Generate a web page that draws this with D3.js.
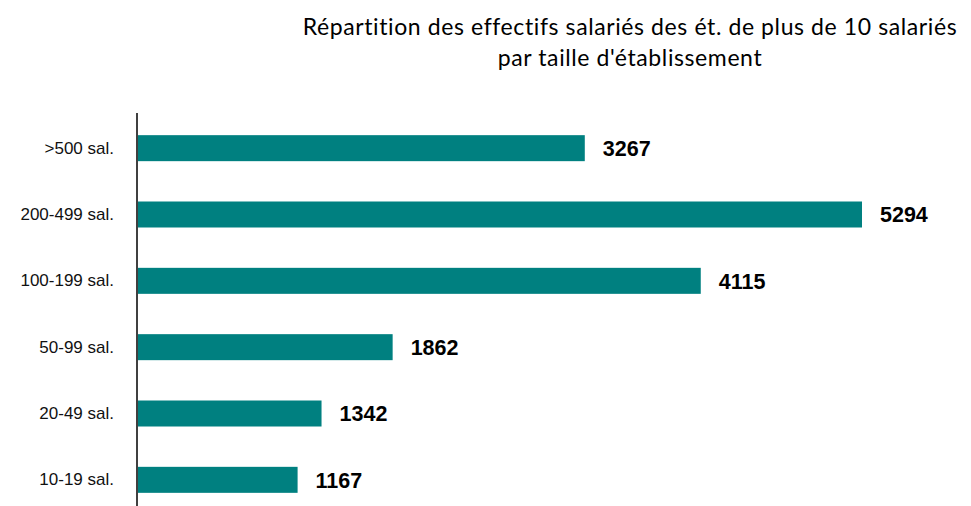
<!DOCTYPE html>
<html>
<head>
<meta charset="utf-8">
<script src="https://cdn.jsdelivr.net/npm/d3@7"></script>
<style>
  body { margin: 0; background: #fff; }
  svg { display: block; }
</style>
</head>
<body>
<div id="chart"></div>
<script>
// Données (de haut en bas)
const categories = [">500 sal.", "200-499 sal.", "100-199 sal.", "50-99 sal.", "20-49 sal.", "10-19 sal."];
const effectifs  = [3267, 5294, 4115, 1862, 1342, 1167];
const titleLines = ["Répartition des effectifs salariés des ét. de plus de 10 salariés", "par taille d'établissement"];

const width = 971, height = 506;

const svg = d3.select("#chart").append("svg")
  .attr("width", width)
  .attr("height", height);

// Titre
svg.append("g").selectAll("text")
  .data(titleLines)
  .enter().append("text")
  .attr("x", 630)
  .attr("y", (d, i) => 35 + i * 31)
  .attr("text-anchor", "middle")
  .style("font-family", "'Gill Sans', 'Lato', 'Open Sans', sans-serif")
  .style("font-size", "23px")
  .style("letter-spacing", "0.6px")
  .style("fill", "#000")
  .text(d => d);

const x = d3.scaleLinear()
  .domain([0, d3.max(effectifs)])
  .range([138, 862]);

const y = d3.scaleBand()
  .domain(categories)
  .range([115, 513])
  .paddingInner(0.608)
  .paddingOuter(0.304);

const data = categories.map((c, i) => ({ cat: c, val: effectifs[i] }));

// Barres
svg.append("g").selectAll("rect")
  .data(data)
  .enter().append("rect")
  .attr("x", x(0))
  .attr("y", d => y(d.cat))
  .attr("width", d => x(d.val) - x(0))
  .attr("height", y.bandwidth())
  .style("fill", "#008080");

// Valeurs
svg.append("g").selectAll("text")
  .data(data)
  .enter().append("text")
  .attr("x", d => x(d.val) + 18)
  .attr("y", d => y(d.cat) + y.bandwidth() / 2)
  .attr("dy", "0.36em")
  .style("font-family", "'Liberation Sans', Arial, sans-serif")
  .style("font-weight", "bold")
  .style("font-size", "21.5px")
  .text(d => d.val);

// Axe vertical
const yAxis = d3.axisLeft(y).tickSize(0).tickPadding(23);
const axisG = svg.append("g")
  .attr("transform", `translate(${x(0) - 1},0)`)
  .call(yAxis);
axisG.select(".domain").remove();
axisG.selectAll("text")
  .style("font-family", "'Liberation Sans', Arial, sans-serif")
  .style("font-size", "17px")
  .style("fill", "#111");

svg.append("line")
  .attr("x1", x(0) - 1).attr("x2", x(0) - 1)
  .attr("y1", 113).attr("y2", height)
  .style("stroke", "#000")
  .style("stroke-width", 1.5);
</script>
</body>
</html>
